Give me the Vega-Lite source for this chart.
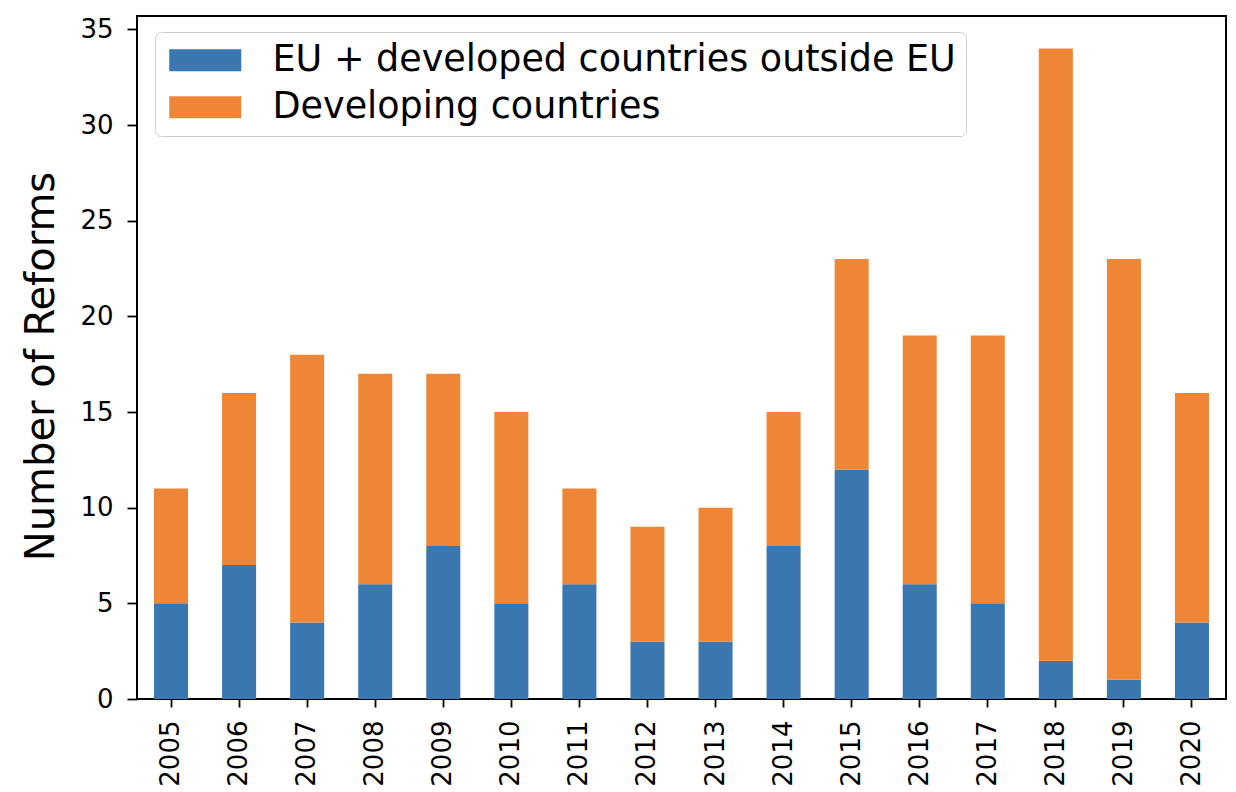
{
  "$schema": "https://vega.github.io/schema/vega-lite/v6.json",
  "width": 1089,
  "height": 683,
  "autosize": {"type": "none"},
  "padding": {"left": 137, "top": 16, "right": 10, "bottom": 93},
  "background": "white",
  "config": {
    "font": "DejaVu Sans",
    "view": {"stroke": "black", "strokeWidth": 2}
  },
  "data": {
    "values": [
      {"year": "2005", "group": "EU + developed countries outside EU", "count": 5},
      {"year": "2005", "group": "Developing countries", "count": 6},
      {"year": "2006", "group": "EU + developed countries outside EU", "count": 7},
      {"year": "2006", "group": "Developing countries", "count": 9},
      {"year": "2007", "group": "EU + developed countries outside EU", "count": 4},
      {"year": "2007", "group": "Developing countries", "count": 14},
      {"year": "2008", "group": "EU + developed countries outside EU", "count": 6},
      {"year": "2008", "group": "Developing countries", "count": 11},
      {"year": "2009", "group": "EU + developed countries outside EU", "count": 8},
      {"year": "2009", "group": "Developing countries", "count": 9},
      {"year": "2010", "group": "EU + developed countries outside EU", "count": 5},
      {"year": "2010", "group": "Developing countries", "count": 10},
      {"year": "2011", "group": "EU + developed countries outside EU", "count": 6},
      {"year": "2011", "group": "Developing countries", "count": 5},
      {"year": "2012", "group": "EU + developed countries outside EU", "count": 3},
      {"year": "2012", "group": "Developing countries", "count": 6},
      {"year": "2013", "group": "EU + developed countries outside EU", "count": 3},
      {"year": "2013", "group": "Developing countries", "count": 7},
      {"year": "2014", "group": "EU + developed countries outside EU", "count": 8},
      {"year": "2014", "group": "Developing countries", "count": 7},
      {"year": "2015", "group": "EU + developed countries outside EU", "count": 12},
      {"year": "2015", "group": "Developing countries", "count": 11},
      {"year": "2016", "group": "EU + developed countries outside EU", "count": 6},
      {"year": "2016", "group": "Developing countries", "count": 13},
      {"year": "2017", "group": "EU + developed countries outside EU", "count": 5},
      {"year": "2017", "group": "Developing countries", "count": 14},
      {"year": "2018", "group": "EU + developed countries outside EU", "count": 2},
      {"year": "2018", "group": "Developing countries", "count": 32},
      {"year": "2019", "group": "EU + developed countries outside EU", "count": 1},
      {"year": "2019", "group": "Developing countries", "count": 22},
      {"year": "2020", "group": "EU + developed countries outside EU", "count": 4},
      {"year": "2020", "group": "Developing countries", "count": 12}
    ]
  },
  "mark": {"type": "bar"},
  "encoding": {
    "x": {
      "field": "year",
      "type": "ordinal",
      "scale": {"paddingInner": 0.5, "paddingOuter": 0.25},
      "axis": {
        "title": null,
        "labelAngle": -90,
        "labelFontSize": 26,
        "labelColor": "black",
        "tickColor": "black",
        "tickSize": 8,
        "tickWidth": 1.8,
        "labelPadding": 13,
        "domain": false
      }
    },
    "y": {
      "field": "count",
      "type": "quantitative",
      "stack": "zero",
      "scale": {"domain": [0, 35.7], "nice": false},
      "axis": {
        "values": [0, 5, 10, 15, 20, 25, 30, 35],
        "grid": false,
        "domain": false,
        "title": "Number of Reforms",
        "titleFontSize": 40,
        "titleFontWeight": "normal",
        "titleColor": "black",
        "titleAngle": -90,
        "titleX": -84,
        "titleY": 350,
        "titleAlign": "center",
        "titleBaseline": "alphabetic",
        "labelFontSize": 26,
        "labelColor": "black",
        "tickSize": 10,
        "tickWidth": 1.8,
        "tickColor": "black",
        "labelPadding": 14
      }
    },
    "color": {
      "field": "group",
      "type": "nominal",
      "sort": ["EU + developed countries outside EU", "Developing countries"],
      "scale": {
        "domain": ["EU + developed countries outside EU", "Developing countries"],
        "range": ["#3a76af", "#ef8636"]
      },
      "legend": {
        "title": null,
        "orient": "none",
        "legendX": 18,
        "legendY": 16,
        "direction": "vertical",
        "symbolType": "M-3,-0.9167L3,-0.9167L3,0.9167L-3,0.9167Z",
        "symbolSize": 576,
        "symbolStrokeWidth": 0,
        "symbolOpacity": 1,
        "symbolOffset": 22,
        "labelFontSize": 36.5,
        "labelColor": "black",
        "labelOffset": 49,
        "labelLimit": 0,
        "rowPadding": 10,
        "padding": 10,
        "fillColor": "rgba(255,255,255,0.8)",
        "strokeColor": "#cccccc",
        "cornerRadius": 6
      }
    },
    "order": {"field": "group", "sort": "descending"}
  }
}
